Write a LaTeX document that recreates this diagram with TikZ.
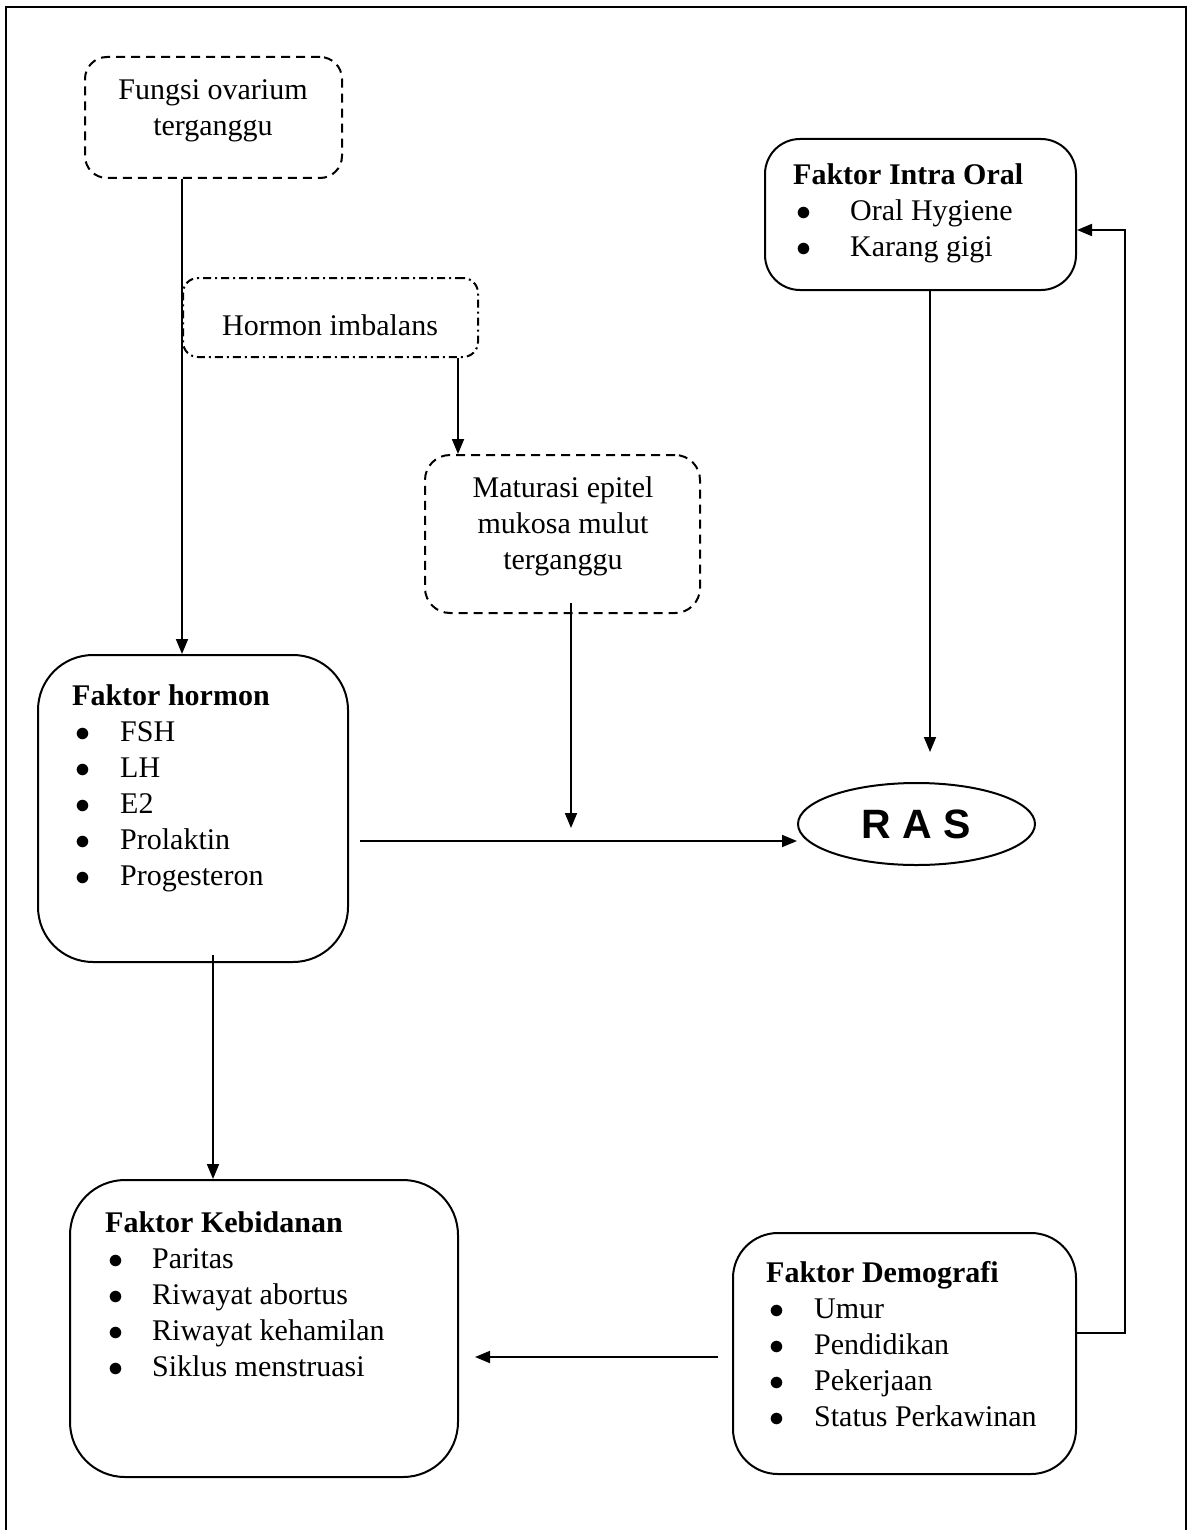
\RequirePackage{fix-cm}
\documentclass[tikz,border=0pt]{standalone}
\usepackage{fontspec}
\setmainfont{Liberation Serif}
\newfontfamily\rasfont{Liberation Sans}
\usetikzlibrary{arrows.meta, shapes, positioning}

\tikzset{
  box/.style={draw, line width=2pt, rounded corners=#1, inner sep=0pt},
  dashbox/.style={box=#1, dash pattern=on 9pt off 6pt},
  dotbox/.style={box=#1, dash pattern=on 8pt off 4pt on 2pt off 4pt},
  txt/.style={inner sep=0pt, font=\fontsize{30}{36}\selectfont},
  arr/.style={line width=1.8pt, -{Triangle[length=15pt,width=12pt]}}
}
\newcommand{\itembul}[2][42pt]{\hspace*{3pt}\makebox[#1][l]{$\bullet$}#2}

\begin{document}
\begin{tikzpicture}[x=1pt, y=-1pt]
\useasboundingbox (0,0) rectangle (1189,1530);

% frame
\draw[line width=2.5pt] (6,1530) -- (6,7) -- (1186,7) -- (1186,1530);

% boxes
\node (fungsi)[dashbox=22pt, minimum width=257pt, minimum height=121pt] at (213.5,117.5) {};
\node (imbal)[dotbox=15pt, minimum width=295pt, minimum height=79pt] at (330.5,317.5) {};
\node (matur)[dashbox=25pt, minimum width=275pt, minimum height=158pt] at (562.5,534) {};
\node (intra)[box=35pt, minimum width=311pt, minimum height=151pt] at (920.5,214.5) {};
\node (fhormon)[box=55pt, minimum width=310pt, minimum height=307pt] at (193,808.5) {};
\node (ras)[ellipse, draw, line width=2pt, minimum width=237pt, minimum height=82pt, inner sep=0pt] at (916.5,824)
  {\rasfont\bfseries\fontsize{41}{41}\selectfont R A S};
\node (kebid)[box=55pt, minimum width=388pt, minimum height=297pt] at (264,1328.5) {};
\node (demog)[box=45pt, minimum width=343pt, minimum height=241pt] at (904.5,1353.5) {};

% texts
\node (fungsitxt)[txt, align=center] at (213,111) {Fungsi ovarium\\terganggu};
\node (imbaltxt)[txt] at (330,325) {Hormon imbalans};
\node (maturtxt)[txt, align=center] at (563,526) {Maturasi epitel\\mukosa mulut\\terganggu};
\node (intratxt)[txt, align=left, anchor=north west] at (793,163)
  {\textbf{Faktor Intra Oral}\\\itembul[54pt]{Oral Hygiene}\\\itembul[54pt]{Karang gigi}};
\node (fhormontxt)[txt, align=left, anchor=north west] at (72,684)
  {\textbf{Faktor hormon}\\\itembul[45pt]{FSH}\\\itembul[45pt]{LH}\\\itembul[45pt]{E2}\\\itembul[45pt]{Prolaktin}\\\itembul[45pt]{Progesteron}};
\node (kebidtxt)[txt, align=left, anchor=north west] at (105,1211)
  {\textbf{Faktor Kebidanan}\\\itembul[44pt]{Paritas}\\\itembul[44pt]{Riwayat abortus}\\\itembul[44pt]{Riwayat kehamilan}\\\itembul[44pt]{Siklus menstruasi}};
\node (demogtxt)[txt, align=left, anchor=north west] at (766,1261)
  {\textbf{Faktor Demografi}\\\itembul[45pt]{Umur}\\\itembul[45pt]{Pendidikan}\\\itembul[45pt]{Pekerjaan}\\\itembul[45pt]{Status Perkawinan}};

% helper coordinates
\coordinate (xa) at (182,0);
\coordinate (xb) at (458,0);
\coordinate (xc) at (930,0);
\coordinate (xd) at (213,0);
\coordinate (xe) at (1125,0);
\coordinate (ya) at (0,841);
\coordinate (yc) at (0,1333);
\coordinate (yd) at (0,230);
\coordinate (mtop) at (571,603);
\coordinate (mend) at (571,828);
\coordinate (hstart) at (360,841);
\coordinate (rasup) at (930,752);
\coordinate (hbot) at (213,955);
\coordinate (dstart) at (718,1357);
\coordinate (kend) at (475,1357);

% connectors
\draw[arr] (fungsi.south -| xa) -- (fhormon.north -| xa);
\draw[arr] (imbal.south -| xb) -- (matur.north -| xb);
\draw[arr] (mtop) -- (mend);
\draw[arr] (hstart) -- (ras.west |- ya);
\draw[arr] (intra.south -| xc) -- (rasup);
\draw[arr] (hbot) -- (kebid.north -| xd);
\draw[arr] (dstart) -- (kend);
\draw[arr] (demog.east |- yc) -- (xe |- yc) -- (xe |- yd) -- (intra.east |- yd);
\end{tikzpicture}
\end{document}
